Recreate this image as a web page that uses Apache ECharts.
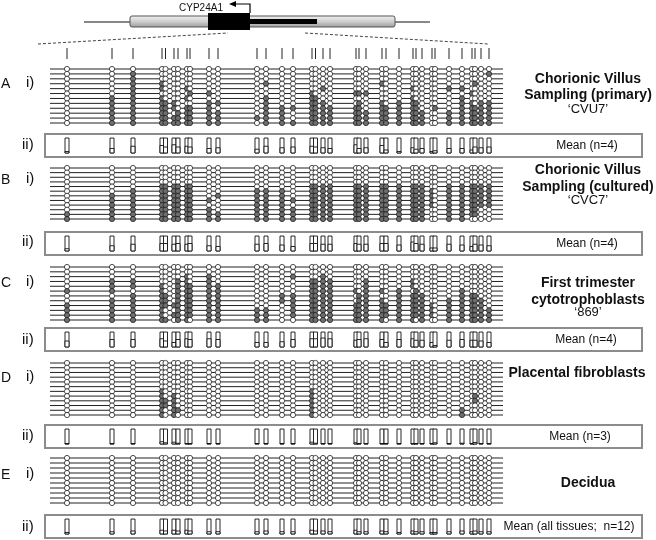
<!DOCTYPE html>
<html>
<head>
<meta charset="utf-8">
<script src="https://cdn.jsdelivr.net/npm/echarts@6/dist/echarts.min.js"></script>
<style>
  html, body { margin: 0; padding: 0; background: #fff; }
  #chart { width: 656px; height: 540px; }
</style>
</head>
<body>
<div id="chart"></div>
<script>
// CpG site positions (bp, relative to the first site of the amplicon)
const cpgPos = [0, 90, 132, 190, 197, 214, 222, 240, 246, 284, 302, 380, 398, 430, 452, 490, 497, 512,
  526, 578, 584, 598, 630, 638, 664, 692, 698, 710, 730, 736, 764, 790, 810, 816, 828, 844];

// methylated sites (index into cpgPos) for every clone, top to bottom
const clonesA = [
  [], [2, 35], [2], [2, 3, 12, 22, 33], [2, 3, 7, 17, 25, 30, 31], [2, 8, 9, 15, 19, 20, 21, 32],
  [1, 2, 3, 7, 12, 15, 16, 25, 31],
  [1, 2, 3, 4, 5, 9, 10, 12, 15, 16, 17, 20, 22, 24, 25, 26, 31, 32, 34, 35],
  [1, 2, 3, 4, 5, 7, 8, 9, 12, 13, 14, 15, 16, 17, 18, 19, 20, 22, 23, 24, 25, 26, 29, 31, 32, 33, 34, 35],
  [1, 2, 3, 4, 6, 7, 8, 9, 10, 12, 13, 15, 16, 17, 18, 19, 20, 21, 22, 23, 24, 25, 26, 27, 30, 31, 32, 33, 34, 35],
  [1, 2, 3, 4, 5, 6, 7, 8, 9, 10, 11, 12, 13, 15, 16, 17, 18, 19, 20, 21, 22, 23, 24, 25, 26, 27, 30, 31, 32, 33, 34, 35],
  [1, 2, 3, 4, 5, 6, 7, 8, 9, 10, 12, 13, 14, 15, 16, 17, 18, 19, 20, 21, 22, 23, 24, 25, 26, 27, 30, 31, 32, 33, 34, 35]
];
const clonesB = [
  [], [], [], [],
  [3, 4, 5, 6, 7, 8, 15, 16, 17, 18, 19, 20, 21, 22, 23, 24, 25, 26, 27, 30, 31, 32, 33, 34, 35],
  [2, 3, 4, 5, 6, 7, 8, 11, 12, 13, 15, 16, 17, 18, 19, 20, 21, 22, 23, 24, 25, 26, 27, 28, 30, 31, 32, 33, 34, 35],
  [1, 2, 3, 4, 5, 6, 7, 8, 10, 11, 12, 13, 15, 16, 17, 18, 19, 20, 21, 22, 23, 24, 25, 26, 27, 28, 30, 31, 32, 33, 34, 35],
  [1, 2, 3, 4, 5, 6, 7, 8, 9, 11, 12, 13, 14, 15, 16, 17, 18, 19, 20, 21, 22, 23, 24, 25, 26, 27, 28, 30, 31, 32, 33, 34, 35],
  [1, 2, 3, 4, 5, 6, 7, 8, 11, 12, 13, 15, 16, 17, 18, 19, 20, 21, 22, 23, 24, 25, 26, 27, 28, 30, 31, 32, 33, 34, 35],
  [1, 2, 3, 4, 5, 6, 7, 8, 9, 11, 12, 13, 14, 15, 16, 17, 18, 19, 20, 21, 22, 23, 24, 25, 26, 27, 30, 31, 32, 33],
  [0, 1, 2, 3, 4, 5, 6, 7, 8, 9, 10, 11, 12, 13, 14, 15, 16, 17, 18, 19, 20, 21, 22, 23, 24, 25, 26, 27, 30, 31, 32, 33],
  [0, 1, 2, 3, 4, 5, 6, 7, 8, 9, 10, 11, 12, 13, 14, 15, 16, 17, 18, 19, 20, 21, 22, 23, 24, 25, 26, 27, 30, 31]
];
const clonesC = [
  [], [], [7, 9, 14, 17],
  [1, 2, 6, 7, 9, 15, 16, 17, 18, 21, 25],
  [1, 2, 3, 6, 7, 8, 9, 10, 15, 16, 17, 18, 21, 25],
  [0, 1, 3, 6, 7, 8, 9, 10, 15, 16, 17, 18, 19, 21, 22, 24, 26, 31],
  [2, 3, 4, 6, 7, 8, 9, 10, 13, 14, 15, 16, 17, 18, 20, 21, 24, 25, 26, 27, 31, 32, 33],
  [1, 2, 3, 4, 6, 7, 8, 9, 10, 13, 14, 15, 16, 17, 18, 20, 21, 22, 24, 25, 26, 27, 30, 31, 32, 33, 34],
  [0, 1, 2, 3, 4, 5, 6, 7, 8, 9, 10, 14, 15, 16, 17, 18, 19, 20, 21, 22, 23, 24, 25, 26, 27, 28, 30, 31, 32, 33, 34],
  [0, 1, 2, 3, 6, 7, 8, 9, 10, 11, 12, 14, 15, 16, 17, 18, 19, 20, 21, 22, 23, 24, 25, 26, 27, 28, 30, 31, 32, 33, 34, 35],
  [0, 1, 2, 3, 5, 6, 7, 8, 9, 10, 11, 12, 14, 15, 16, 17, 18, 19, 20, 21, 22, 23, 24, 25, 26, 27, 28, 30, 31, 32, 33, 34, 35],
  [0, 1, 2, 3, 4, 6, 7, 9, 10, 11, 12, 15, 16, 17, 18, 19, 20, 21, 22, 24, 25, 27, 30, 31, 32, 33, 34, 35]
];
const clonesD = [
  [], [], [], [], [], [],
  [3, 15], [3, 5, 15, 33], [3, 4, 5, 15, 33], [3, 4, 5, 15], [3, 5, 6, 15, 31], [3, 5, 15, 31]
];
const clonesE = [[], [], [], [], [], [], [], [], [], []];

// mean methylation (fraction) per CpG site
const meanA = [0.1, 0.3, 0.45, 0.5, 0.4, 0.55, 0.4, 0.45, 0.4, 0.3, 0.35, 0.25, 0.45, 0.35, 0.4, 0.45, 0.4, 0.35,
  0.3, 0.55, 0.3, 0.35, 0.5, 0.2, 0.1, 0.35, 0.25, 0.3, 0.1, 0.15, 0.3, 0.3, 0.2, 0.4, 0.35, 0.4];
const meanB = [0.15, 0.35, 0.45, 0.5, 0.5, 0.45, 0.5, 0.45, 0.5, 0.35, 0.3, 0.45, 0.5, 0.4, 0.3, 0.5, 0.5, 0.45,
  0.45, 0.5, 0.45, 0.45, 0.5, 0.5, 0.4, 0.6, 0.5, 0.45, 0.2, 0.2, 0.45, 0.4, 0.3, 0.45, 0.4, 0.35];
const meanC = [0.4, 0.5, 0.5, 0.55, 0.4, 0.3, 0.5, 0.55, 0.5, 0.55, 0.5, 0.3, 0.3, 0.35, 0.5, 0.55, 0.55, 0.6,
  0.55, 0.45, 0.5, 0.55, 0.5, 0.3, 0.5, 0.55, 0.45, 0.45, 0.3, 0.1, 0.45, 0.5, 0.45, 0.45, 0.4, 0.3];
const meanD = [0.03, 0.03, 0.03, 0.15, 0.08, 0.12, 0.05, 0.03, 0.03, 0.03, 0.03, 0.03, 0.03, 0.03, 0.03, 0.12, 0.05, 0.03,
  0.03, 0.08, 0.03, 0.03, 0.03, 0.03, 0.03, 0.03, 0.03, 0.03, 0.03, 0.08, 0.03, 0.05, 0.03, 0.1, 0.03, 0.03];
const meanE = [0.1, 0.15, 0.2, 0.25, 0.2, 0.25, 0.2, 0.25, 0.2, 0.15, 0.15, 0.15, 0.2, 0.15, 0.15, 0.25, 0.2, 0.2,
  0.15, 0.25, 0.15, 0.15, 0.2, 0.15, 0.1, 0.2, 0.15, 0.15, 0.1, 0.1, 0.15, 0.2, 0.15, 0.2, 0.15, 0.15];

const panelLetters = ['A', 'B', 'C', 'D', 'E'];
const panelTitles = [
  ['Chorionic Villus', 'Sampling (primary)'],
  ['Chorionic Villus', 'Sampling (cultured)'],
  ['First trimester', 'cytotrophoblasts'],
  ['Placental fibroblasts'],
  ['Decidua']
];
const panelSubtitles = ['\u2018CVU7\u2019', '\u2018CVC7\u2019', '\u2018869\u2019', '', ''];
const meanLabels = ['Mean (n=4)', 'Mean (n=4)', 'Mean (n=4)', 'Mean (n=3)', 'Mean (all tissues;  n=12)'];

// layout
const bpPerPx = 2, firstPx = 67;
const toBp = px => (px - firstPx) * bpPerPx;
const panels = [
  { clones: clonesA, mean: meanA, top: 69, h: 54, mTop: 134, letterY: 84, iiY: 145, titleY: [79, 95, 109], meanX: 587 },
  { clones: clonesB, mean: meanB, top: 168, h: 51, mTop: 232, letterY: 180, iiY: 242, titleY: [170, 187, 200], meanX: 587 },
  { clones: clonesC, mean: meanC, top: 267, h: 53, mTop: 328, letterY: 283, iiY: 340, titleY: [283, 300, 312], meanX: 586 },
  { clones: clonesD, mean: meanD, top: 363, h: 52, mTop: 425, letterY: 378, iiY: 436, titleY: [373], meanX: 580 },
  { clones: clonesE, mean: meanE, top: 458, h: 45, mTop: 515, letterY: 475, iiY: 527, titleY: [483], meanX: 569 }
];
const rowLeft = 50, rowRight = 503, boxLeft = 45, boxRight = 642;

const grid = [{ left: rowLeft, top: 48, width: rowRight - rowLeft, height: 11 }];
const xAxis = [{ gridIndex: 0, type: 'value', min: toBp(rowLeft), max: toBp(rowRight), show: false }];
const yAxis = [{ gridIndex: 0, type: 'value', min: 0, max: 1, show: false }];
const series = [];

// CpG tick marks above the clones
series.push({
  type: 'custom', xAxisIndex: 0, yAxisIndex: 0,
  data: cpgPos.map(p => [p, 0]),
  renderItem: (params, api) => {
    const a = api.coord([api.value(0), 0]);
    const b = api.coord([api.value(0), 1]);
    return { type: 'line', shape: { x1: a[0], y1: a[1], x2: b[0], y2: b[1] }, style: { stroke: '#222', lineWidth: 1 } };
  }
});

const graphic = [];
const font = '"Liberation Sans", Arial, sans-serif';

panels.forEach((p, k) => {
  const gi = grid.length;
  const n = p.clones.length;
  // lollipop grid
  grid.push({ left: rowLeft, top: p.top, width: rowRight - rowLeft, height: p.h });
  xAxis.push({ gridIndex: gi, type: 'value', min: toBp(rowLeft), max: toBp(rowRight), show: false });
  yAxis.push({ gridIndex: gi, type: 'value', min: 0, max: n - 1, inverse: true, show: false });
  // mean box grid
  grid.push({ left: boxLeft, top: p.mTop, width: boxRight - boxLeft, height: 23, show: true,
    borderColor: '#8c8c8c', borderWidth: 2, backgroundColor: '#fff' });
  xAxis.push({ gridIndex: gi + 1, type: 'value', min: toBp(boxLeft), max: toBp(boxRight), show: false });
  yAxis.push({ gridIndex: gi + 1, type: 'value', min: -0.27, max: 1.27, show: false });

  const xMin = toBp(rowLeft), xMax = toBp(rowRight);
  series.push({
    type: 'custom', xAxisIndex: gi, yAxisIndex: gi, z: 1, clip: false,
    data: p.clones.map((c, r) => [xMin, r]),
    renderItem: (params, api) => {
      const a = api.coord([xMin, api.value(1)]);
      const b = api.coord([xMax, api.value(1)]);
      return { type: 'line', shape: { x1: a[0], y1: a[1], x2: b[0], y2: b[1] }, style: { stroke: '#222', lineWidth: 1 } };
    }
  });
  const pts = [];
  p.clones.forEach((c, r) => {
    cpgPos.forEach((pos, s) => pts.push([pos, r, c.includes(s) ? 1 : 0]));
  });
  series.push({
    type: 'scatter', xAxisIndex: gi, yAxisIndex: gi, z: 3, symbol: 'circle', symbolSize: 5.2,
    data: pts,
    itemStyle: {
      color: d => d.value[2] ? '#6e6e6e' : '#fff',
      borderColor: '#222', borderWidth: 0.8, opacity: 1
    }
  });
  series.push({
    type: 'custom', xAxisIndex: gi + 1, yAxisIndex: gi + 1, z: 3,
    data: cpgPos.map((pos, s) => [pos, p.mean[s]]),
    renderItem: (params, api) => {
      const x = api.value(0), v = api.value(1);
      const b0 = api.coord([x, 0]), b1 = api.coord([x, 1]), bv = api.coord([x, v]);
      const w = 4;
      return {
        type: 'group', children: [
          { type: 'rect', shape: { x: b0[0] - w / 2, y: b1[1], width: w, height: b0[1] - b1[1] },
            style: { fill: '#fff', stroke: '#111', lineWidth: 0.9 } },
          { type: 'rect', shape: { x: b0[0] - w / 2, y: bv[1], width: w, height: b0[1] - bv[1] },
            style: { fill: '#fff', stroke: '#111', lineWidth: 0.9 } }
        ]
      };
    }
  });

  // labels
  graphic.push({ type: 'text', style: { text: panelLetters[k], x: 1, y: p.letterY, font: '14px ' + font, fill: '#111', textVerticalAlign: 'middle' } });
  graphic.push({ type: 'text', style: { text: 'i)', x: 26, y: p.letterY - 1, font: '15px ' + font, fill: '#111', textVerticalAlign: 'middle' } });
  graphic.push({ type: 'text', style: { text: 'ii)', x: 22, y: p.iiY, font: '15px ' + font, fill: '#111', textVerticalAlign: 'middle' } });
  panelTitles[k].forEach((t, j) => {
    graphic.push({ type: 'text', style: { text: t, x: k === 3 ? 577 : 588, y: p.titleY[j], font: 'bold 14px ' + font, fill: '#111', textAlign: 'center', textVerticalAlign: 'middle' } });
  });
  if (panelSubtitles[k]) {
    graphic.push({ type: 'text', style: { text: panelSubtitles[k], x: 588, y: p.titleY[2], font: '13px ' + font, fill: '#111', textAlign: 'center', textVerticalAlign: 'middle' } });
  }
  graphic.push({ type: 'text', z: 10, style: { text: meanLabels[k], x: p.meanX, y: p.mTop + 12, font: '12px ' + font, fill: '#111', textAlign: 'center', textVerticalAlign: 'middle' } });
});

// gene schematic at the top
graphic.push(
  { type: 'line', shape: { x1: 84, y1: 22, x2: 430, y2: 22 }, style: { stroke: '#111', lineWidth: 1 } },
  { type: 'rect', shape: { x: 130, y: 16, width: 265, height: 11, r: 2 },
    style: { fill: new echarts.graphic.LinearGradient(0, 0, 0, 1, [
      { offset: 0, color: '#f2f2f2' }, { offset: 0.5, color: '#cfcfcf' }, { offset: 1, color: '#9a9a9a' }]),
      stroke: '#555', lineWidth: 1 } },
  { type: 'rect', shape: { x: 250, y: 19, width: 67, height: 5 }, style: { fill: '#000' } },
  { type: 'rect', shape: { x: 208, y: 13, width: 42, height: 17 }, style: { fill: '#000' } },
  { type: 'polyline', shape: { points: [[250, 13], [250, 4], [235, 4]] }, style: { stroke: '#000', lineWidth: 1.2, fill: null } },
  { type: 'polygon', shape: { points: [[229, 4], [236, 1], [236, 7]] }, style: { fill: '#000' } },
  { type: 'text', style: { text: 'CYP24A1', x: 201, y: 8, font: '10px ' + font, fill: '#111', textAlign: 'center', textVerticalAlign: 'middle' } },
  { type: 'line', shape: { x1: 38, y1: 44, x2: 228, y2: 33 }, style: { stroke: '#444', lineWidth: 1, lineDash: [3, 2] } },
  { type: 'line', shape: { x1: 305, y1: 33, x2: 488, y2: 44 }, style: { stroke: '#444', lineWidth: 1, lineDash: [3, 2] } }
);

const chart = echarts.init(document.getElementById('chart'));
chart.setOption({
  animation: false,
  backgroundColor: '#fff',
  grid, xAxis, yAxis, series, graphic
});
</script>
</body>
</html>
